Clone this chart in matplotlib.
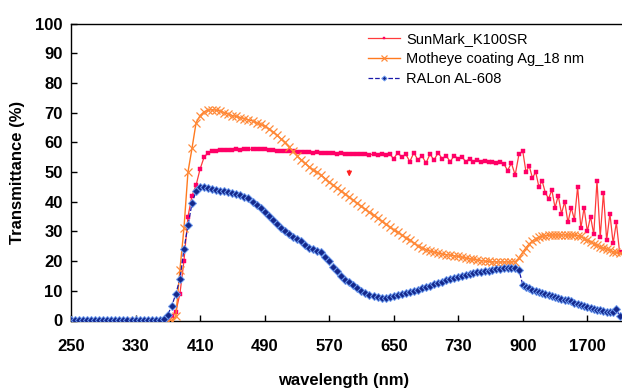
import numpy as np
import matplotlib
matplotlib.use("Agg")
import matplotlib.pyplot as plt

plt.rcParams['font.family'] = ['Liberation Sans', 'DejaVu Sans']

# ---------------- data ----------------
wl_a = list(range(250, 735, 5))          # 250..730 step 5
wl_b = list(range(740, 900, 10))         # 740..890 step 10
wl_c = list(range(900, 2101, 40))        # 900..2100 step 40
wavelength = wl_a + wl_b + wl_c

sunmark = (
    [0.0] * 24 +                                   # 250..365
    [0.5, 1.5, 3, 9, 20, 35, 42, 45.5, 51, 55, 56.5, 57, 57.2, 57.3, 57.4,
     57.5, 57.5, 57.6, 57.5, 57.6, 57.7, 57.6, 57.8, 57.9, 57.6, 57.5, 57.3,
     57.2, 57.2, 57.1, 57, 57, 56.8, 56.9, 56.7, 56.8, 56.5, 56.6, 56.4, 56.5,
     56.3, 56.4, 56.2, 56.3, 56, 56.2, 56, 56.1, 55.9, 56, 55.8, 56, 55.7,
     55.9, 55.8,                                    # 370..640
     56, 54.5, 56.5, 55, 56, 53.5, 56.5, 54, 55.5, 53, 56, 54, 56.5, 54.5,
     55.5, 53.5, 55.5, 54.5] +                      # 645..730
    [55, 53.5, 54.5, 53.5, 54, 53.5, 53.8, 53.2, 53.5, 53, 53.2, 52.8, 50.5,
     53, 49, 56] +                                  # 740..890
    [57, 50, 52, 48, 50, 45, 47, 43, 41, 44, 38, 42, 36, 40, 33, 38, 34, 45,
     31, 38, 30, 35, 29, 47, 28, 43, 27, 36, 26, 33, 23]   # 900..2100
)

motheye = (
    [0.0] * 26 +                                   # 250..375
    [1.5, 17, 31, 50, 58, 66.5, 69, 70.3, 70.8, 71, 70.8, 70.5, 70, 69.5,
     69, 68.7, 68.3, 68, 67.6, 67.2, 66.6, 66, 65.4, 64.6, 63.6, 62.5, 61.2,
     60, 58.5, 57, 55.5, 54.2, 53, 51.8, 50.8, 49.9, 49, 47.8, 46.6, 45.6,
     44.6, 43.6, 42.6, 41.5, 40.5, 39.4, 38.4, 37.4, 36.4, 35.4, 34.4, 33.4,
     32.4, 31.5, 30.6, 29.7, 28.8, 27.9, 27, 26.1, 25.2, 24.5, 23.9, 23.4,
     23, 22.7, 22.4, 22.2, 22, 21.8, 21.6] +        # 380..730
    [21.3, 21, 20.8, 20.6, 20.4, 20.2, 20, 19.9, 19.8, 19.7, 19.7, 19.7,
     19.7, 19.7, 19.8, 21] +                        # 740..890
    [23, 24.5, 25.8, 26.8, 27.5, 28, 28.3, 28.6, 28.7, 28.8, 28.8, 28.8,
     28.8, 28.8, 28.8, 28.8, 28.7, 28.6, 28.3, 27.6, 27, 26.5, 25.9, 25.3,
     24.8, 24.4, 24, 23.6, 23.2, 22.9, 22.6]        # 900..2100
)

ralon = (
    [0.2] * 23 +                                   # 250..360
    [0.5, 2, 5, 9, 14, 24, 32, 39.5, 43.5, 45, 44.8, 44.5, 44.2, 44, 43.7,
     43.5, 43.2, 43, 42.6, 42.2, 41.7, 41.2, 40, 39, 37.8, 36.5, 35.3, 34,
     32.6, 31.2, 30, 29, 28.2, 27.5, 26.8, 25.5, 24.5, 24, 23.5, 23, 21.5, 20,
     18, 16.5, 15, 13.8, 12.8, 12, 11, 10, 9.3, 8.7, 8.2, 7.9, 7.7, 7.7, 7.9,
     8.2, 8.5, 8.8, 9.2, 9.6, 10, 10.4, 10.9, 11.3, 11.7, 12.2, 12.6, 13.1,
     13.6, 14, 14.3, 14.6] +                        # 365..730
    [15, 15.4, 15.7, 16, 16.2, 16.4, 16.6, 16.8, 17, 17.2, 17.4, 17.6, 17.7,
     17.8, 17.6, 17] +                              # 740..890
    [12, 11.3, 10.8, 10.3, 10, 9.6, 9.2, 8.8, 8.5, 8.2, 7.9, 7.6, 7.3, 7,
     6.8, 6.4, 6, 5.6, 5.2, 4.8, 4.5, 4.2, 3.9, 3.6, 3.4, 3.2, 3, 3, 3, 3.9,
     1.5]                                           # 900..2100
)

tick_wl = [250, 330, 410, 490, 570, 650, 730, 900, 1700]
yticks = list(range(0, 101, 10))

# category-like axis: piecewise linear scale
bp_wl = [250, 730, 900, 1700, 2130]
bp_pos = [0, 480, 560, 640, 683]

def fwd(x):
    return np.interp(x, bp_wl, bp_pos)

def inv(p):
    return np.interp(p, bp_pos, bp_wl)

# ---------------- figure ----------------
fig = plt.figure(figsize=(6.22, 3.88), dpi=100)
ax = fig.add_axes([71 / 622, 67.5 / 388, 1 - 71 / 622, 297 / 388])
ax.set_xscale('function', functions=(fwd, inv))

ax.plot(wavelength, sunmark, color='#FF3B3B', lw=0.9, marker='s', ms=3.0,
        mfc='#FF0066', mec='#FF0066', mew=0.3, label='SunMark_K100SR', zorder=3)
ax.plot(wavelength, motheye, color='#FF7A1F', lw=1.0, marker='x', ms=5.5,
        mec='#FF8A3A', mew=0.9, label='Motheye coating Ag_18 nm', zorder=4)
ax.plot(wavelength, ralon, color='#1A1AAA', lw=0.9, ls='--', marker='D',
        ms=3.6, mfc='#14288C', mec='#6E9BF0', mew=0.7,
        label='RALon AL-608', zorder=5)

ax.annotate('', xy=(595, 47.5), xytext=(595, 51.5),
            arrowprops=dict(arrowstyle='-|>', color='#FF2020', lw=1.0,
                            mutation_scale=7))

ax.set_xlim(250, 2130)
ax.set_ylim(0, 100)
ax.set_xticks(tick_wl)
ax.set_xticklabels([str(t) for t in tick_wl])
ax.set_yticks(yticks)
ax.xaxis.set_minor_locator(matplotlib.ticker.NullLocator())

ax.tick_params(axis='both', direction='in', length=4, width=1,
               labelsize=12, pad=6)
for lab in ax.get_xticklabels() + ax.get_yticklabels():
    lab.set_fontweight('bold')
ax.tick_params(axis='x', pad=13)

for s in ['left', 'bottom', 'top']:
    ax.spines[s].set_color('black')
    ax.spines[s].set_linewidth(1.0)
ax.spines['right'].set_visible(False)

fig.text(344 / 622, 1 - 381 / 388, 'wavelength (nm)', ha='center',
         va='center', fontsize=12, fontweight='bold')
fig.text(18 / 622, 1 - 172 / 388, 'Transmittance (%)', ha='center',
         va='center', fontsize=12, fontweight='bold', rotation=90)

leg = ax.legend(loc='upper left', bbox_to_anchor=(368 / 622, 1 - 32 / 388),
                bbox_transform=fig.transFigure, frameon=False, fontsize=10.5,
                handlelength=2.2, handletextpad=0.4, labelspacing=0.42,
                borderaxespad=0, borderpad=0, markerscale=0.7)

fig.savefig('out.png', dpi=100)
